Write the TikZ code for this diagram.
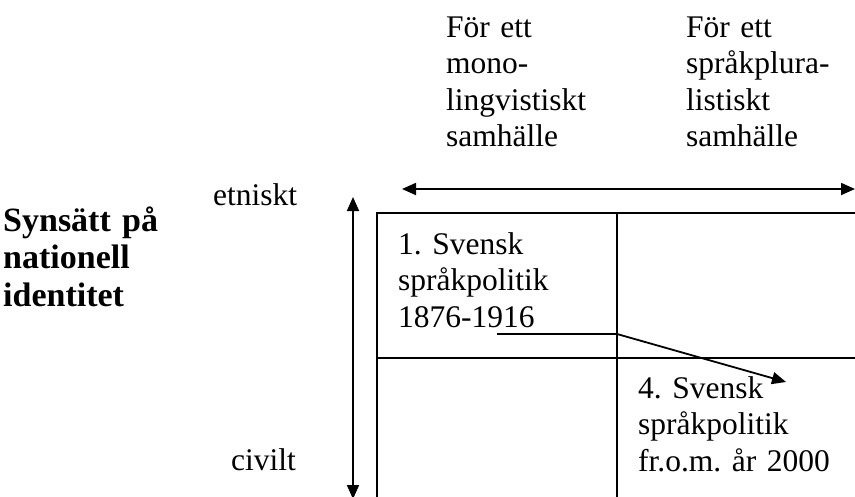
\documentclass[tikz,border=0pt]{standalone}
\usepackage{fontspec}
\setmainfont{Liberation Serif}
\usetikzlibrary{arrows.meta}
\frenchspacing
\tikzset{
  txt/.style={anchor=base west, inner sep=0pt, text width=#1, align=left,
    font=\fontsize{31.5}{36.6}\selectfont\frenchspacing},
  txt/.default=220pt,
  boldtxt/.style={anchor=base west, inner sep=0pt, text width=200pt, align=left,
    font=\fontsize{34}{37.5}\selectfont\bfseries\frenchspacing},
  gridline/.style={line width=1.8pt},
  axis/.style={line width=1.8pt, {Triangle[length=14pt,width=12pt]}-{Triangle[length=14pt,width=12pt]}},
  shiftarrow/.style={line width=1.8pt, -{Triangle[length=14pt,width=12pt]}}
}
\begin{document}
\begin{tikzpicture}[x=1pt,y=-1pt]
\useasboundingbox (0,0) rectangle (855,496);
% column headers
\node[txt=200pt] (h1) at (446,37) {För ett\\mono-\\lingvistiskt\\samhälle};
\node[txt=160pt] (h2) at (686,37) {För ett\\språkplura-\\listiskt\\samhälle};
% row title
\node[boldtxt] (ident) at (3,231) {Synsätt på\\nationell\\identitet};
\node[txt=100pt] (etn) at (213,205) {etniskt};
\node[txt=100pt] (civ) at (231,470) {civilt};
% axes
\coordinate (hl) at (402,189);
\coordinate (hr) at (855,189);
\draw[axis] (hl) -- (hr);
\coordinate (vt) at (353,197);
\coordinate (vb) at (353,499);
\draw[axis] (vt) -- (vb);
% grid
\coordinate (g1) at (377,213);
\coordinate (g2) at (860,213);
\coordinate (g3) at (377,505);
\coordinate (g4) at (617,213);
\coordinate (g5) at (617,505);
\coordinate (g6) at (377,358);
\coordinate (g7) at (860,358);
\draw[gridline] (g3) -- (g1) -- (g2);
\draw[gridline] (g4) -- (g5);
\draw[gridline] (g6) -- (g7);
% cell texts
\node[txt=200pt] (c1) at (398,254) {1. Svensk\\språkpolitik\\1876-1916};
\node[txt=210pt] (c4) at (638,398) {4. Svensk\\språkpolitik\\fr.o.m. år 2000};
% shift arrow
\coordinate (s0) at (497,334);
\coordinate (s1) at (617,334);
\coordinate (s2) at (786,382);
\draw[shiftarrow] (s0) -- (s1) -- (s2);
\end{tikzpicture}
\end{document}
